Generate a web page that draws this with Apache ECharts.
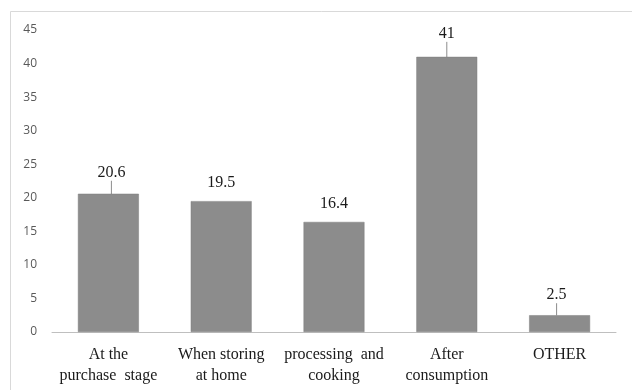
<!DOCTYPE html>
<html>
<head>
<meta charset="utf-8">
<script src="https://cdn.jsdelivr.net/npm/echarts@6/dist/echarts.min.js"></script>
<style>
html,body{margin:0;padding:0;background:#fff;}
#c{width:632px;height:390px;}
</style>
</head>
<body>
<div id="c"></div>
<script>
var categories = ["At the\npurchase  stage", "When storing\nat home", "processing  and\ncooking", "After\nconsumption", "OTHER"];
var values = [20.6, 19.5, 16.4, 41, 2.5];
var yTicks = {min: 0, max: 45, interval: 5};

var leader = [true, false, false, true, true];
var serif = "'Liberation Serif', 'Times New Roman', serif";

var chart = echarts.init(document.getElementById('c'), null, {renderer: 'canvas'});
chart.setOption({
  animation: false,
  backgroundColor: '#ffffff',
  graphic: [{
    type: 'rect', left: 8, top: 9,
    shape: {width: 700, height: 500},
    style: {fill: 'none', stroke: '#d9d9d9', lineWidth: 1},
    silent: true, z: -1
  }],
  grid: {left: 52, right: 16, top: 30, bottom: 58, containLabel: false},
  xAxis: {
    type: 'category',
    data: categories,
    axisLine: {show: true, lineStyle: {color: '#bfbfbf', width: 1}},
    axisTick: {show: false},
    axisLabel: {
      interval: 0,
      color: '#1a1a1a',
      fontFamily: serif,
      fontSize: 16,
      lineHeight: 21,
      margin: 12
    }
  },
  yAxis: {
    type: 'value',
    min: yTicks.min, max: yTicks.max, interval: yTicks.interval,
    axisLine: {show: false},
    axisTick: {show: false},
    splitLine: {show: false},
    axisLabel: {
      color: '#595959',
      fontFamily: "'Open Sans', 'Liberation Sans', sans-serif",
      fontSize: 12,
      margin: 15
    }
  },
  series: [{
    type: 'bar',
    data: values.map(function (v, i) {
      return {value: v, labelLine: {show: leader[i]}};
    }),
    barWidth: '54%',
    itemStyle: {color: '#8c8c8c', borderColor: '#7f7f7f', borderWidth: 0.5},
    label: {
      show: true,
      position: 'top',
      distance: 5,
      color: '#1a1a1a',
      fontFamily: serif,
      fontSize: 16,
      padding: [0, 0, 5, 0]
    },
    labelLine: {lineStyle: {color: '#8c8c8c', width: 1}},
    labelLayout: function (p) {
      var i = p.dataIndex;
      if (leader[i]) {
        return {dy: i === 3 ? -5 : (i === 0 ? -3 : -2), dx: i === 0 ? 3 : (i === 4 ? -3 : 0)};
      }
      return {};
    }
  }]
});
</script>
</body>
</html>
